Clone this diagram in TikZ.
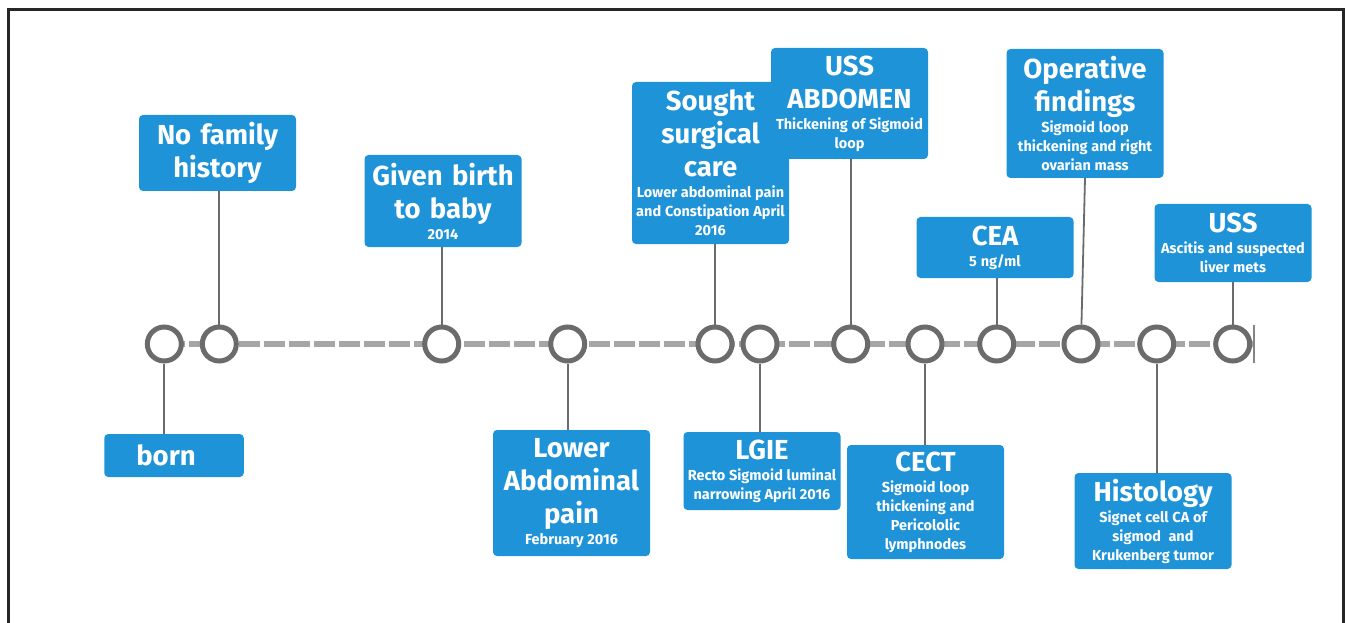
\documentclass[tikz,border=0pt]{standalone}
\usepackage{fontspec}
\setmainfont{Fira Sans}
\usepackage{tikz}
\definecolor{boxblue}{HTML}{1F93D8}
\definecolor{ringgray}{HTML}{6B6B6B}
\definecolor{linegray}{HTML}{A6A6A6}
\newcommand\bigtxt{\fontsize{27.5}{33}\selectfont\spaceskip=0.34em\relax}
\newcommand\smalltxt{\fontsize{14.5}{19}\selectfont\spaceskip=0.26em\relax}
\newcommand\evtext[2]{{\bigtxt #1\par}\vspace{2pt}{\smalltxt #2\par}}

\begin{document}
\begin{tikzpicture}[x=1pt, y=-1pt,
    evbox/.style={fill=boxblue, text=white, font=\bfseries, rounded corners=4pt,
      text width=156pt, align=center, minimum width=157pt, inner sep=0.5pt},
    ring/.style={circle, draw=ringgray, line width=5pt, fill=white, minimum size=34pt, inner sep=0pt},
    link/.style={draw=ringgray, line width=1.8pt},
    timeline/.style={draw=linegray, line width=6pt, dash pattern=on 21pt off 4pt}]
    \useasboundingbox (0,0) rectangle (1345,623);
    \draw [line width=3pt, black!85] (8,623) -- (8,9.5) -- (1343.5,9.5) -- (1343.5,623);

    \coordinate (tstart) at (164,344);
    \coordinate (tend) at (1254,344);
    \draw [timeline] (tstart) -- (tend);
    \draw [draw=linegray!80!black, line width=2.5pt] ([yshift=19pt]tend) -- ([yshift=-19pt]tend);

    \node [ring] (t1) at (164.3,344) {};
    \node [ring] (t2) at (219.3,344) {};
    \node [ring] (t3) at (441.7,344) {};
    \node [ring] (t4) at (567.7,344) {};
    \node [ring] (t5) at (715,344) {};
    \node [ring] (t6) at (760,344) {};
    \node [ring] (t7) at (850.7,344) {};
    \node [ring] (t8) at (925,344) {};
    \node [ring] (t9) at (996.7,344) {};
    \node [ring] (t10) at (1081,344) {};
    \node [ring] (t11) at (1156.7,344) {};
    \node [ring] (t12) at (1232.7,344) {};

    \node [evbox, minimum height=76pt] (fam) at (217.5,153) {\bigtxt No family\\history\par};
    \node [evbox, minimum width=139.5pt, text width=136pt, minimum height=43pt] (born) at (174,455.5)
      {\bigtxt\hspace*{-16pt}born\par};
    \node [evbox, minimum height=92pt] (birth) at (443,201) {\evtext{Given birth\\to baby}{2014}};
    \node [evbox, minimum height=126pt] (lap) at (571.5,493) {\evtext{Lower\\Abdominal\\pain}{February 2016}};
    \node [evbox, minimum height=162pt] (sought) at (710.5,163)
      {\evtext{Sought\\surgical\\care}{Lower abdominal pain\\and Constipation April\\2016}};
    \node [evbox, minimum height=111pt] (ussab) at (849.5,103.5)
      {\evtext{USS\\ABDOMEN}{Thickening of Sigmoid\\loop}};
    \node [evbox, minimum height=78pt] (lgie) at (762,471)
      {\evtext{LGIE}{Recto Sigmoid luminal\\narrowing April 2016}};
    \node [evbox, minimum height=114pt] (cect) at (925.5,502)
      {\evtext{CECT}{Sigmoid loop\\thickening and\\Pericololic\\lymphnodes}};
    \node [evbox, minimum height=61pt] (cea) at (995,247.5) {\evtext{CEA}{5 ng/ml}};
    \node [evbox, minimum height=129pt] (oper) at (1085,113.5)
      {\evtext{Operative\\findings}{Sigmoid loop\\thickening and right\\ovarian mass}};
    \node [evbox, minimum height=78pt] (uss) at (1233,243)
      {\evtext{USS}{Ascitis and suspected\\liver mets}};
    \node [evbox, minimum height=96pt] (hist) at (1153,521)
      {\evtext{Histology}{Signet cell CA of\\sigmod~~and\\Krukenberg tumor}};

    \draw [link] (t1) -- (t1 |- born.north);
    \draw [link] (t2) -- (t2 |- fam.south);
    \draw [link] (t3) -- (t3 |- birth.south);
    \draw [link] (t4) -- (t4 |- lap.north);
    \draw [link] (t5) -- (t5 |- sought.south);
    \draw [link] (t6) -- (t6 |- lgie.north);
    \draw [link] (t7) -- (t7 |- ussab.south);
    \draw [link] (t8) -- (t8 |- cect.north);
    \draw [link] (t9) -- (t9 |- cea.south);
    \draw [link] (t10) -- (oper.south);
    \draw [link] (t11) -- (t11 |- hist.north);
    \draw [link] (t12) -- (t12 |- uss.south);
\end{tikzpicture}
\end{document}
